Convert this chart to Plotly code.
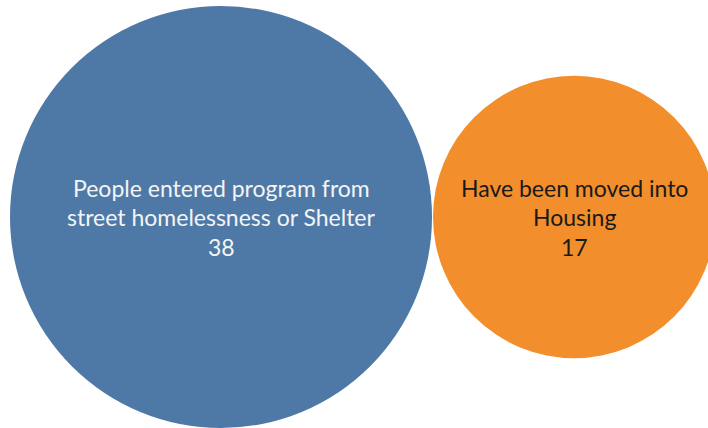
import math
import plotly.graph_objects as go

labels = ["People entered program from<br>street homelessness or Shelter", "Have been moved into<br>Housing"]
values = [38, 17]
colors = ["#4E79A7", "#F28E2B"]
text_colors = ["#F4F4F4", "#1a1a1a"]

W, H = 708, 428
scale = 211 / math.sqrt(max(values))  # px radius per sqrt(unit)
radii = [scale * math.sqrt(v) for v in values]
cy = 217
left = 10
cxs = []
x = left
for r in radii:
    cxs.append(x + r)
    x += 2 * r + 1

fig = go.Figure()
fig.add_trace(go.Scatter(
    x=cxs, y=[cy] * len(values), mode="markers",
    marker=dict(size=[2 * r for r in radii], sizemode="diameter", color=colors,
                opacity=1, line=dict(width=0)),
    hoverinfo="skip", showlegend=False,
))

line_gap = 29.5
for cx, lab, v, tc in zip(cxs, labels, values, text_colors):
    lines = lab.split("<br>") + [str(v)]
    n = len(lines)
    for i, ln in enumerate(lines):
        fig.add_annotation(x=cx, y=cy + (i - (n - 1) / 2) * line_gap, xref="x", yref="y",
                           text=ln, showarrow=False,
                           font=dict(family="Lato", size=23, color=tc),
                           xanchor="center", yanchor="middle")

fig.update_layout(
    width=W, height=H, margin=dict(l=0, r=0, t=0, b=0),
    paper_bgcolor="white", plot_bgcolor="white",
    xaxis=dict(range=[0, W], visible=False, fixedrange=True),
    yaxis=dict(range=[H, 0], visible=False, fixedrange=True),
)
fig.write_html("out.html", config={"displayModeBar": False},
               post_script="document.body.style.margin='0';document.body.style.overflow='hidden';")
